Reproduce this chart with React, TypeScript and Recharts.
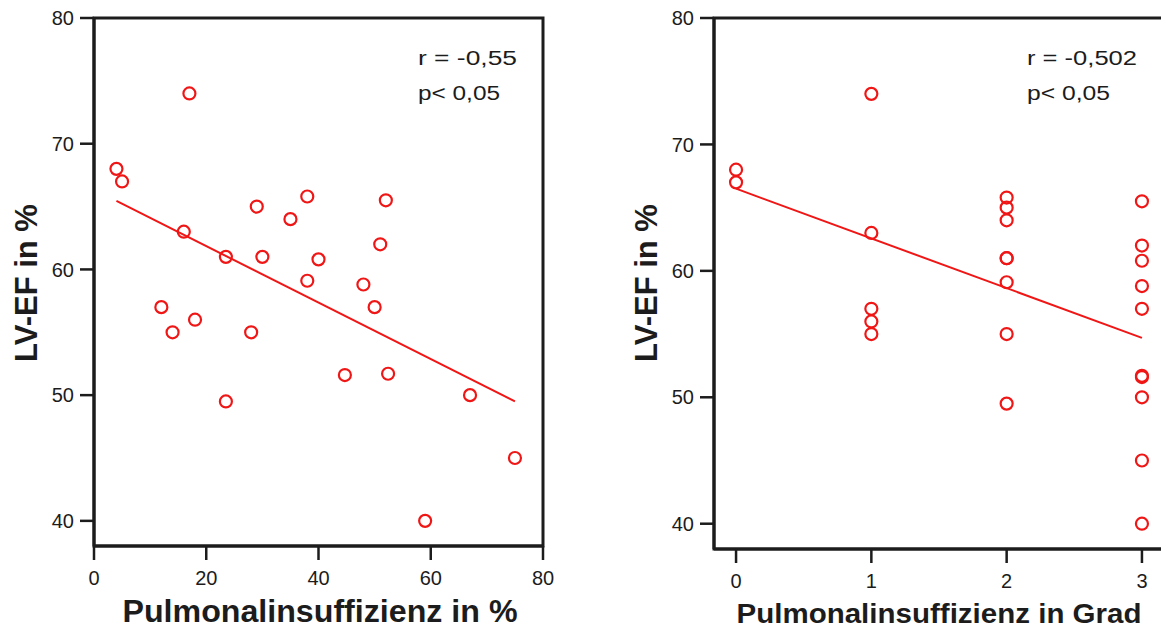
import React from 'react';
import { ScatterChart, Scatter, XAxis, YAxis, ReferenceArea, ReferenceLine } from 'recharts';

// LV-EF (%) per patient, same order in both panels
const lvef = [68, 67, 74, 63, 57, 55, 56, 61, 49.5, 55, 65, 61, 64, 65.8, 59.1, 60.8, 51.6, 58.8, 57, 62, 65.5, 51.7, 40, 50, 45];
// Pulmonalinsuffizienz in %
const piPercent = [4, 5, 17, 16, 12, 14, 18, 23.5, 23.5, 28, 29, 30, 35, 38, 38, 40, 44.7, 48, 50, 51, 52, 52.4, 59, 67, 75];
// Pulmonalinsuffizienz in Grad
const piGrade = [0, 0, 1, 1, 1, 1, 1, 2, 2, 2, 2, 2, 2, 2, 2, 3, 3, 3, 3, 3, 3, 3, 3, 3, 3];

// regression line end points
const fitPercentX = [4, 75];
const fitPercentY = [65.45, 49.5];
const fitGradeX = [0, 3];
const fitGradeY = [66.5, 54.7];

const yTicks = [40, 50, 60, 70, 80];
const percentTicks = [0, 20, 40, 60, 80];
const gradeTicks = [0, 1, 2, 3];

const percentData = lvef.map((y, i) => ({ x: piPercent[i], y }));
const gradeData = lvef.map((y, i) => ({ x: piGrade[i], y }));

const INK = '#1c1c1c';
const RED = '#f01616';
const FONT = '"Liberation Sans", Arial, sans-serif';

const tickStyle = { fill: INK, fontSize: 20, fontFamily: FONT };

const Ring = (props: any) => (
  <circle cx={props.cx} cy={props.cy} r={6} fill="none" stroke={RED} strokeWidth={2.2} />
);

type PanelProps = {
  data: { x: number; y: number }[];
  xDomain: [number, number];
  xTicks: number[];
  fitX: number[];
  fitY: number[];
  width: number;
  yAxisWidth: number;
  marginRight: number;
  marginBottom: number;
};

const Panel = ({ data, xDomain, xTicks, fitX, fitY, width, yAxisWidth, marginRight, marginBottom }: PanelProps) => (
  <ScatterChart width={width} height={629} margin={{ top: 18, right: marginRight, bottom: marginBottom, left: 0 }}>
    <XAxis
      type="number"
      dataKey="x"
      domain={xDomain}
      ticks={xTicks}
      allowDataOverflow
      height={40}
      tickSize={14}
      tickMargin={11}
      tick={tickStyle}
      axisLine={{ stroke: INK, strokeWidth: 3 }}
      tickLine={{ stroke: INK, strokeWidth: 2.5 }}
    />
    <YAxis
      type="number"
      dataKey="y"
      domain={[38, 80]}
      ticks={yTicks}
      allowDataOverflow
      width={yAxisWidth}
      tickSize={14}
      tickMargin={6}
      tick={tickStyle}
      axisLine={{ stroke: INK, strokeWidth: 3 }}
      tickLine={{ stroke: INK, strokeWidth: 2.5 }}
    />
    <ReferenceArea x1={xDomain[0]} x2={xDomain[1]} y1={38} y2={80} fill="none" stroke={INK} strokeWidth={3} strokeOpacity={1} />
    <ReferenceLine
      segment={[{ x: fitX[0], y: fitY[0] }, { x: fitX[1], y: fitY[1] }]}
      stroke={RED}
      strokeWidth={2}
    />
    <Scatter data={data} shape={Ring} isAnimationActive={false} />
  </ScatterChart>
);

export default function App() {
  return (
    <div style={{ position: 'absolute', left: 0, top: 0, width: 1161, height: 629, overflow: 'hidden', background: '#fff' }}>
      <div style={{ position: 'absolute', left: 0, top: 0 }}>
        <Panel
          data={percentData}
          xDomain={[0, 80]}
          xTicks={percentTicks}
          fitX={fitPercentX}
          fitY={fitPercentY}
          width={580}
          yAxisWidth={94}
          marginRight={37}
          marginBottom={43}
        />
      </div>
      <div style={{ position: 'absolute', left: 580, top: 0 }}>
        <Panel
          data={gradeData}
          xDomain={[-0.163, 3.163]}
          xTicks={gradeTicks}
          fitX={fitGradeX}
          fitY={fitGradeY}
          width={600}
          yAxisWidth={134}
          marginRight={16}
          marginBottom={40}
        />
      </div>
      <svg width={1161} height={629} style={{ position: 'absolute', left: 0, top: 0, pointerEvents: 'none' }}>
        <g fontFamily={FONT} fill={INK}>
          <text x={418} y={65} fontSize={20} textLength={99} lengthAdjust="spacingAndGlyphs">r = -0,55</text>
          <text x={418} y={100} fontSize={20} textLength={82} lengthAdjust="spacingAndGlyphs">p&lt; 0,05</text>
          <text x={1027} y={65} fontSize={20} textLength={110} lengthAdjust="spacingAndGlyphs">r = -0,502</text>
          <text x={1027} y={100} fontSize={20} textLength={83} lengthAdjust="spacingAndGlyphs">p&lt; 0,05</text>

          <text x={37} y={283} fontSize={31} fontWeight="bold" textAnchor="middle" transform="rotate(-90 37 283)">LV-EF in %</text>
          <text x={657} y={283} fontSize={31} fontWeight="bold" textAnchor="middle" transform="rotate(-90 657 283)">LV-EF in %</text>

          <text x={320} y={622} fontSize={31} fontWeight="bold" textAnchor="middle" textLength={395} lengthAdjust="spacingAndGlyphs">Pulmonalinsuffizienz in %</text>
          <text x={939} y={623} fontSize={27} fontWeight="bold" textAnchor="middle" textLength={405} lengthAdjust="spacingAndGlyphs">Pulmonalinsuffizienz in Grad</text>
        </g>
      </svg>
    </div>
  );
}
